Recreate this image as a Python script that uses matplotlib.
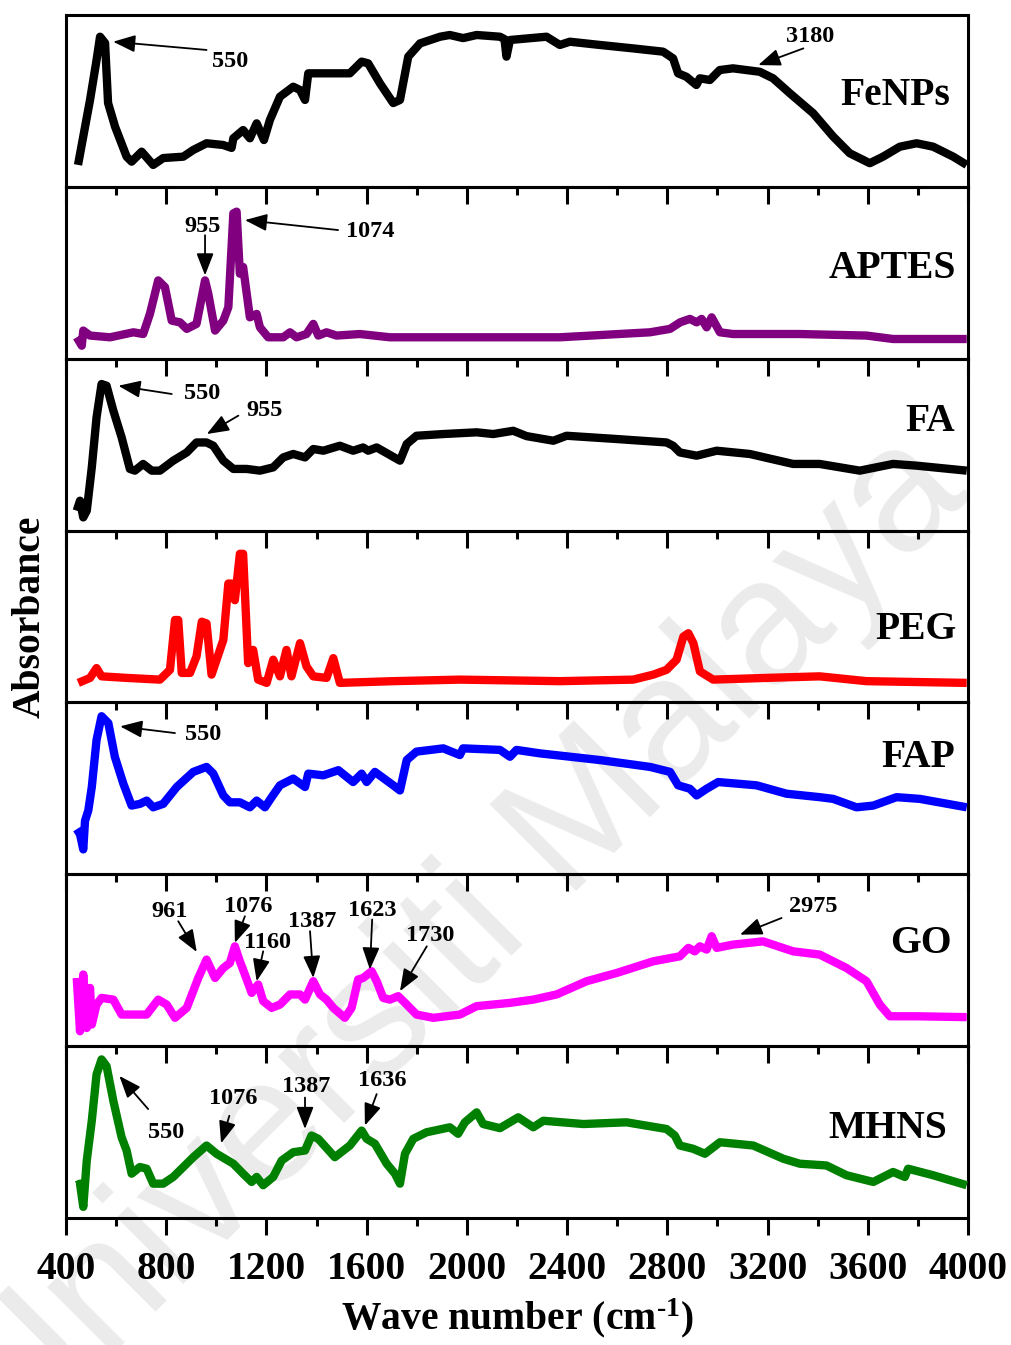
import matplotlib
matplotlib.use("Agg")
import matplotlib.pyplot as plt
from matplotlib.ticker import MultipleLocator

plt.rcParams['font.family'] = ['Liberation Serif', 'DejaVu Serif']
plt.rcParams['font.weight'] = 'bold'
plt.rcParams['mathtext.fontset'] = 'custom'
plt.rcParams['mathtext.rm'] = 'Liberation Serif:bold'
plt.rcParams['mathtext.bf'] = 'Liberation Serif:bold'
plt.rcParams['mathtext.default'] = 'bf'

# ---------------- data (wavenumber, relative absorbance) ----------------
fenps_wn = [448, 496, 522, 536, 556, 568, 596, 642, 662, 702, 748, 788, 868, 908, 961, 1027, 1061, 1068,
            1107, 1134, 1161, 1190, 1214, 1254, 1307, 1334, 1354, 1367, 1427, 1533, 1580, 1606, 1653, 1706,
            1733, 1766, 1813, 1893, 1932, 1985, 2039, 2132, 2150, 2158, 2172, 2318, 2371, 2411, 2531, 2664,
            2783, 2823, 2843, 2876, 2916, 2930, 2970, 3009, 3062, 3169, 3222, 3289, 3382, 3462, 3528, 3608,
            3661, 3728, 3795, 3861, 3941, 3995]
fenps_ab = [0.128, 0.506, 0.738, 0.874, 0.837, 0.488, 0.350, 0.176, 0.147, 0.205, 0.128, 0.168, 0.176, 0.215,
            0.254, 0.244, 0.227, 0.283, 0.331, 0.283, 0.370, 0.273, 0.390, 0.525, 0.583, 0.564, 0.506, 0.661,
            0.661, 0.661, 0.729, 0.719, 0.603, 0.488, 0.506, 0.758, 0.835, 0.874, 0.884, 0.866, 0.884, 0.874,
            0.860, 0.758, 0.855, 0.874, 0.826, 0.845, 0.826, 0.806, 0.787, 0.748, 0.661, 0.641, 0.593, 0.632,
            0.622, 0.680, 0.690, 0.670, 0.632, 0.545, 0.429, 0.293, 0.196, 0.138, 0.176, 0.234, 0.254, 0.234,
            0.176, 0.128]

aptes_wn = [443, 463, 469, 496, 576, 669, 708, 735, 768, 795, 822, 855, 882, 921, 955, 968, 995, 1028, 1048,
            1068, 1081, 1094, 1107, 1134, 1161, 1174, 1207, 1267, 1294, 1320, 1360, 1387, 1407, 1440, 1480,
            1573, 1693, 2371, 2731, 2811, 2851, 2890, 2917, 2937, 2957, 2977, 3010, 3062, 3329, 3595, 3701,
            3995]
aptes_ab = [0.125, 0.076, 0.164, 0.135, 0.125, 0.154, 0.144, 0.261, 0.456, 0.417, 0.222, 0.212, 0.174, 0.203,
            0.456, 0.378, 0.164, 0.222, 0.300, 0.846, 0.856, 0.495, 0.534, 0.241, 0.261, 0.183, 0.125, 0.125,
            0.154, 0.125, 0.144, 0.203, 0.135, 0.154, 0.135, 0.144, 0.125, 0.125, 0.154, 0.174, 0.212, 0.232,
            0.212, 0.232, 0.183, 0.241, 0.154, 0.144, 0.144, 0.135, 0.115, 0.115]

fa_wn = [443, 456, 469, 483, 503, 522, 542, 562, 589, 622, 655, 675, 708, 742, 775, 828, 882, 921, 961, 988,
         1028, 1068, 1121, 1174, 1227, 1267, 1307, 1354, 1387, 1427, 1493, 1546, 1586, 1606, 1640, 1733, 1760,
         1799, 1906, 2039, 2105, 2185, 2238, 2345, 2398, 2598, 2797, 2823, 2850, 2917, 2997, 3129, 3302, 3408,
         3568, 3701, 3795, 3995]
fa_ab = [0.116, 0.174, 0.077, 0.116, 0.368, 0.659, 0.853, 0.843, 0.698, 0.543, 0.359, 0.349, 0.388, 0.349,
         0.349, 0.407, 0.455, 0.513, 0.513, 0.494, 0.407, 0.359, 0.359, 0.349, 0.368, 0.426, 0.446, 0.426,
         0.475, 0.465, 0.494, 0.465, 0.484, 0.465, 0.484, 0.407, 0.504, 0.552, 0.562, 0.572, 0.562, 0.581,
         0.550, 0.523, 0.552, 0.533, 0.513, 0.494, 0.455, 0.436, 0.465, 0.446, 0.388, 0.388, 0.349, 0.388,
         0.378, 0.349]

peg_wn = [449, 496, 522, 542, 642, 775, 815, 835, 848, 862, 895, 921, 942, 961, 981, 1028, 1048, 1061, 1074,
          1094, 1107, 1127, 1147, 1167, 1201, 1227, 1254, 1280, 1300, 1334, 1360, 1387, 1440, 1467, 1493,
          1706, 1972, 2371, 2664, 2744, 2797, 2837, 2864, 2884, 2904, 2930, 2983, 3196, 3408, 3595, 3995]
peg_ab = [0.114, 0.143, 0.200, 0.152, 0.143, 0.133, 0.190, 0.480, 0.480, 0.172, 0.172, 0.268, 0.470, 0.460,
          0.162, 0.364, 0.692, 0.692, 0.595, 0.865, 0.865, 0.229, 0.306, 0.133, 0.114, 0.249, 0.152, 0.306,
          0.152, 0.345, 0.210, 0.152, 0.143, 0.258, 0.114, 0.124, 0.133, 0.124, 0.133, 0.162, 0.190, 0.249,
          0.383, 0.403, 0.345, 0.181, 0.133, 0.143, 0.152, 0.124, 0.114]

fap_wn = [443, 456, 469, 476, 489, 503, 522, 542, 569, 595, 629, 662, 695, 722, 748, 788, 842, 908, 961, 988,
          1028, 1054, 1094, 1134, 1161, 1194, 1221, 1254, 1307, 1354, 1367, 1427, 1487, 1546, 1580, 1600,
          1633, 1706, 1733, 1760, 1799, 1906, 1972, 1985, 2132, 2172, 2198, 2291, 2531, 2731, 2811, 2843,
          2890, 2917, 2957, 3003, 3156, 3276, 3408, 3462, 3555, 3622, 3715, 3808, 3995]
fap_ab = [0.263, 0.233, 0.145, 0.312, 0.371, 0.508, 0.782, 0.920, 0.880, 0.684, 0.527, 0.400, 0.410, 0.429,
          0.390, 0.410, 0.508, 0.596, 0.625, 0.586, 0.459, 0.419, 0.419, 0.390, 0.429, 0.390, 0.449, 0.518,
          0.557, 0.508, 0.586, 0.576, 0.606, 0.537, 0.586, 0.537, 0.596, 0.518, 0.488, 0.665, 0.714, 0.733,
          0.694, 0.733, 0.724, 0.684, 0.724, 0.704, 0.665, 0.625, 0.596, 0.518, 0.498, 0.459, 0.498, 0.537,
          0.518, 0.469, 0.449, 0.439, 0.390, 0.400, 0.449, 0.439, 0.390]

go_wn = [443, 456, 469, 483, 496, 503, 522, 542, 589, 622, 722, 768, 802, 835, 882, 928, 961, 995, 1028, 1054,
         1074, 1094, 1114, 1141, 1167, 1187, 1221, 1254, 1294, 1334, 1354, 1387, 1414, 1440, 1467, 1513, 1540,
         1566, 1586, 1620, 1640, 1666, 1693, 1726, 1760, 1799, 1866, 1972, 2039, 2172, 2265, 2358, 2478, 2598,
         2744, 2850, 2884, 2910, 2930, 2957, 2977, 2997, 3062, 3182, 3302, 3408, 3515, 3595, 3648, 3688, 3795,
         3995]
go_ab = [0.397, 0.087, 0.417, 0.106, 0.339, 0.126, 0.242, 0.281, 0.271, 0.184, 0.184, 0.271, 0.242, 0.165,
         0.223, 0.397, 0.504, 0.397, 0.455, 0.484, 0.581, 0.494, 0.417, 0.310, 0.359, 0.262, 0.223, 0.242,
         0.301, 0.301, 0.271, 0.378, 0.301, 0.271, 0.223, 0.165, 0.223, 0.388, 0.397, 0.436, 0.378, 0.281,
         0.271, 0.291, 0.242, 0.184, 0.165, 0.184, 0.233, 0.252, 0.271, 0.301, 0.378, 0.426, 0.494, 0.523,
         0.572, 0.552, 0.581, 0.562, 0.640, 0.572, 0.591, 0.610, 0.552, 0.533, 0.455, 0.378, 0.242, 0.174,
         0.174, 0.169]

mhns_wn = [443, 456, 469, 483, 503, 522, 542, 562, 589, 622, 642, 662, 695, 722, 748, 788, 828, 908, 961, 1001,
           1068, 1107, 1141, 1161, 1187, 1227, 1261, 1307, 1354, 1380, 1407, 1473, 1533, 1580, 1600, 1633,
           1680, 1713, 1733, 1753, 1786, 1839, 1932, 1965, 1992, 2039, 2065, 2132, 2205, 2265, 2305, 2465,
           2637, 2797, 2830, 2850, 2903, 2950, 3010, 3143, 3263, 3329, 3435, 3515, 3622, 3701, 3748, 3761,
           3861, 3995]
mhns_ab = [0.191, 0.200, 0.065, 0.335, 0.566, 0.836, 0.923, 0.884, 0.682, 0.470, 0.393, 0.258, 0.297, 0.287,
           0.200, 0.200, 0.239, 0.354, 0.422, 0.374, 0.316, 0.258, 0.210, 0.239, 0.191, 0.239, 0.335, 0.383,
           0.393, 0.480, 0.461, 0.354, 0.422, 0.509, 0.461, 0.432, 0.316, 0.258, 0.200, 0.374, 0.461, 0.499,
           0.528, 0.490, 0.557, 0.615, 0.547, 0.523, 0.586, 0.528, 0.566, 0.547, 0.557, 0.518, 0.480, 0.422,
           0.403, 0.374, 0.441, 0.422, 0.345, 0.316, 0.306, 0.249, 0.210, 0.268, 0.239, 0.287, 0.249, 0.191]

names = ['FeNPs', 'APTES', 'FA', 'PEG', 'FAP', 'GO', 'MHNS']
colors = ['#000000', '#800080', '#000000', '#ff0000', '#0000ff', '#ff00ff', '#008000']
series = [(fenps_wn, fenps_ab), (aptes_wn, aptes_ab), (fa_wn, fa_ab), (peg_wn, peg_ab),
          (fap_wn, fap_ab), (go_wn, go_ab), (mhns_wn, mhns_ab)]
label_pos = [(0.980, 0.530), (0.987, 0.526), (0.986, 0.634), (0.987, 0.422),
             (0.986, 0.682), (0.982, 0.599), (0.977, 0.520)]

# peak annotations: (text, text_xy, arrow_tail, arrow_head) in data units
annotations = {
    0: [('550', (1054, 0.728), (961, 0.797), (588, 0.845)),
        ('3180', (3369, 0.874), (3343, 0.806), (3163, 0.709))],
    1: [('955', (947, 0.768), (955, 0.719), (955, 0.485)),
        ('1074', (1613, 0.739), (1486, 0.749), (1114, 0.807))],
    2: [('550', (942, 0.795), (822, 0.795), (609, 0.843)),
        ('955', (1194, 0.698), (1088, 0.669), (962, 0.562))],
    4: [('550', (948, 0.812), (835, 0.822), (616, 0.861))],
    5: [('961', (815, 0.785), (848, 0.727), (922, 0.548)),
        ('1076', (1128, 0.814), (1114, 0.756), (1074, 0.601)),
        ('1160', (1203, 0.601), (1187, 0.552), (1161, 0.378)),
        ('1387', (1381, 0.727), (1374, 0.669), (1387, 0.397)),
        ('1623', (1622, 0.789), (1622, 0.737), (1613, 0.446)),
        ('1730', (1853, 0.645), (1840, 0.581), (1733, 0.320)),
        ('2975', (3383, 0.814), (3256, 0.746), (3090, 0.649))],
    6: [('550', (799, 0.499), (728, 0.634), (613, 0.827)),
        ('1076', (1068, 0.698), (1052, 0.595), (1019, 0.435)),
        ('1387', (1358, 0.763), (1354, 0.701), (1354, 0.518)),
        ('1636', (1664, 0.798), (1640, 0.721), (1593, 0.538))],
}

xticks = [400, 800, 1200, 1600, 2000, 2400, 2800, 3200, 3600, 4000]

fig = plt.figure(figsize=(10.12, 13.45), dpi=100)
axes = fig.subplots(7, 1, sharex=True, gridspec_kw=dict(hspace=0))
fig.subplots_adjust(left=0.0652, right=0.9565, top=0.9888, bottom=0.0944)

# watermark
fig.text(0.455, 0.30, 'Universiti Malaya', fontsize=128, family='Liberation Sans', weight='normal',
         color='#ebebeb', rotation=45, ha='center', va='center', rotation_mode='anchor', zorder=-5)

for i, ax in enumerate(axes):
    ax.set_facecolor('none')
    wn, ab = series[i]
    ax.plot(wn, ab, color=colors[i], lw=6.0, solid_joinstyle='round', solid_capstyle='butt', zorder=3)
    ax.set_xlim(400, 4000)
    ax.set_ylim(0, 1)
    ax.set_yticks([])
    ax.set_xticks(xticks)
    ax.xaxis.set_minor_locator(MultipleLocator(200))
    ax.tick_params(axis='x', which='major', direction='out', length=12, width=2.2, labelsize=28.5, pad=12)
    ax.tick_params(axis='x', which='minor', direction='out', length=6, width=2.2)
    for sp in ax.spines.values():
        sp.set_linewidth(2.2)
    ax.text(label_pos[i][0], label_pos[i][1], names[i], transform=ax.transAxes, ha='right', va='center',
            fontsize=28.5, fontweight='bold')
    for txt, txy, tail, head in annotations.get(i, []):
        ax.annotate('', xy=head, xytext=tail,
                    arrowprops=dict(arrowstyle='-|>,head_length=0.9,head_width=0.35', color='k', lw=1.3,
                                    mutation_scale=15, shrinkA=0, shrinkB=0), zorder=4)
        ax.text(txy[0], txy[1], txt, ha='center', va='center', fontsize=17.5, fontweight='bold', zorder=4)

axes[-1].set_xticklabels([str(t) for t in xticks])
axes[-1].set_xlabel(r'Wave number (cm$^{\text{-1}}$)', fontsize=28.5, fontweight='bold', labelpad=6)
fig.text(30 / 1012, 1 - 617 / 1345, 'Absorbance', rotation=90, ha='center', va='center',
         fontsize=28.5, fontweight='bold')

fig.savefig('out.png', dpi=100)
